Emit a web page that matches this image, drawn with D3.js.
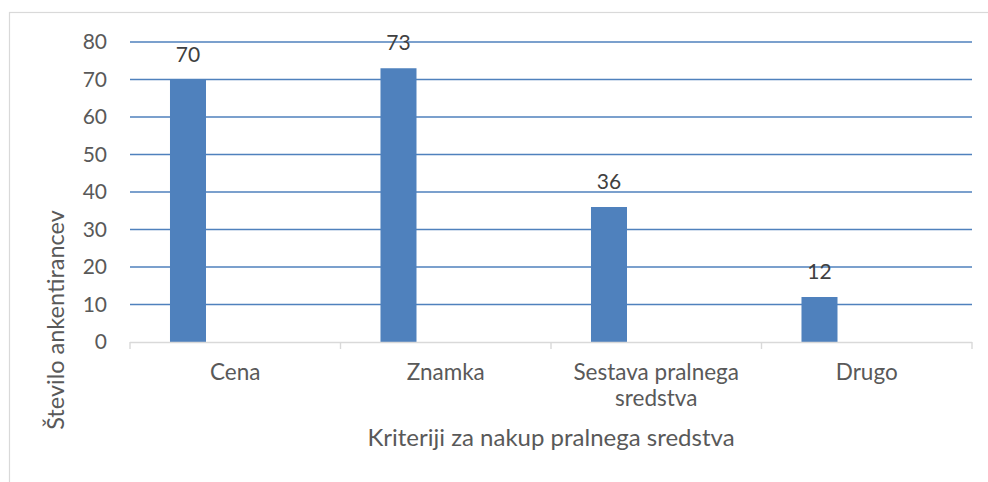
<!DOCTYPE html>
<html>
<head>
<meta charset="utf-8">
<script src="https://cdn.jsdelivr.net/npm/d3@7"></script>
<style>
  body { margin: 0; background: #fff; }
  svg { display: block; font-family: Lato, "Open Sans", sans-serif; }
</style>
</head>
<body>
<div id="chart"></div>
<script>
// data
const categories = ["Cena", "Znamka", "Sestava pralnega sredstva", "Drugo"];
const values = [70, 73, 36, 12];
const series = ["vrednost", "prazno"]; // second series is empty, it only shifts the bars left
const yTicks = [0, 10, 20, 30, 40, 50, 60, 70, 80];
const yTitle = "Število ankentirancev";
const xTitle = "Kriteriji za nakup pralnega sredstva";

// size and margins
const width = 988, height = 482;
const margin = { top: 42, right: 16, bottom: 140, left: 130 };
const plotW = width - margin.left - margin.right;
const plotH = height - margin.top - margin.bottom;

const svg = d3.select("#chart")
  .append("svg")
    .attr("width", width)
    .attr("height", height);

// chart frame
svg.append("rect")
  .attr("x", 9.5).attr("y", 12.5)
  .attr("width", 1000).attr("height", 500)
  .attr("fill", "none")
  .attr("stroke", "#d9d9d9")
  .attr("stroke-width", 1.2);

const g = svg.append("g")
  .attr("transform", "translate(" + margin.left + "," + margin.top + ")");

// scales
const x0 = d3.scaleBand().domain(categories).range([0, plotW]).padding(0);
const x1 = d3.scaleBand().domain(series).range([0, x0.bandwidth()])
  .paddingInner(0.619).paddingOuter(0.423);
const y = d3.scaleLinear().domain([0, 80]).range([plotH, 0]);

// gridlines
g.append("g")
  .selectAll("line")
  .data(yTicks.filter(d => d > 0))
  .join("line")
    .attr("x1", 0).attr("x2", plotW)
    .attr("y1", d => y(d)).attr("y2", d => y(d))
    .attr("stroke", "#4f81bd")
    .attr("stroke-width", 1.4);

// y axis labels
const yAxis = g.append("g")
  .call(d3.axisLeft(y).tickValues(yTicks).tickSize(0).tickPadding(23));
yAxis.select(".domain").remove();
yAxis.selectAll("text")
  .attr("fill", "#595959")
  .style("font-size", "21px")
  .style("font-family", "Lato, sans-serif");

// bars
g.append("g")
  .selectAll("rect")
  .data(values)
  .join("rect")
    .attr("x", (d, i) => x0(categories[i]) + x1("vrednost"))
    .attr("y", d => y(d))
    .attr("width", x1.bandwidth())
    .attr("height", d => plotH - y(d))
    .attr("fill", "#4f81bd");

// data labels
g.append("g")
  .selectAll("text")
  .data(values)
  .join("text")
    .attr("x", (d, i) => x0(categories[i]) + x1("vrednost") + x1.bandwidth() / 2)
    .attr("y", d => y(d) - 18)
    .attr("text-anchor", "middle")
    .attr("fill", "#404040")
    .style("font-size", "21px")
    .text(d => d);

// x axis line with ticks at the category boundaries
g.append("line")
  .attr("x1", 0).attr("x2", plotW)
  .attr("y1", plotH + 0.5).attr("y2", plotH + 0.5)
  .attr("stroke", "#d9d9d9")
  .attr("stroke-width", 1.4);

g.append("g")
  .selectAll("line")
  .data(categories.map(c => x0(c)).concat([plotW]))
  .join("line")
    .attr("x1", d => d).attr("x2", d => d)
    .attr("y1", plotH).attr("y2", plotH + 7)
    .attr("stroke", "#d9d9d9")
    .attr("stroke-width", 1.4);

// category labels, wrapped like the original
const wrapLabel = s => s === "Sestava pralnega sredstva" ? ["Sestava pralnega", "sredstva"] : [s];
g.append("g")
  .selectAll("text")
  .data(categories)
  .join("text")
    .attr("x", d => x0(d) + x0.bandwidth() / 2)
    .attr("y", plotH + 38)
    .attr("text-anchor", "middle")
    .attr("fill", "#595959")
    .style("font-size", "22.5px")
    .each(function(d) {
      const t = d3.select(this);
      wrapLabel(d).forEach((line, i) => {
        t.append("tspan")
          .attr("x", x0(d) + x0.bandwidth() / 2)
          .attr("dy", i === 0 ? 0 : 26)
          .text(line);
      });
    });

// axis titles
g.append("text")
  .attr("x", plotW / 2)
  .attr("y", plotH + 104)
  .attr("text-anchor", "middle")
  .attr("fill", "#595959")
  .style("font-size", "24px")
  .text(xTitle);

svg.append("text")
  .attr("transform", "translate(64,320) rotate(-90)")
  .attr("text-anchor", "middle")
  .attr("fill", "#595959")
  .style("font-size", "23.5px")
  .text(yTitle);
</script>
</body>
</html>
